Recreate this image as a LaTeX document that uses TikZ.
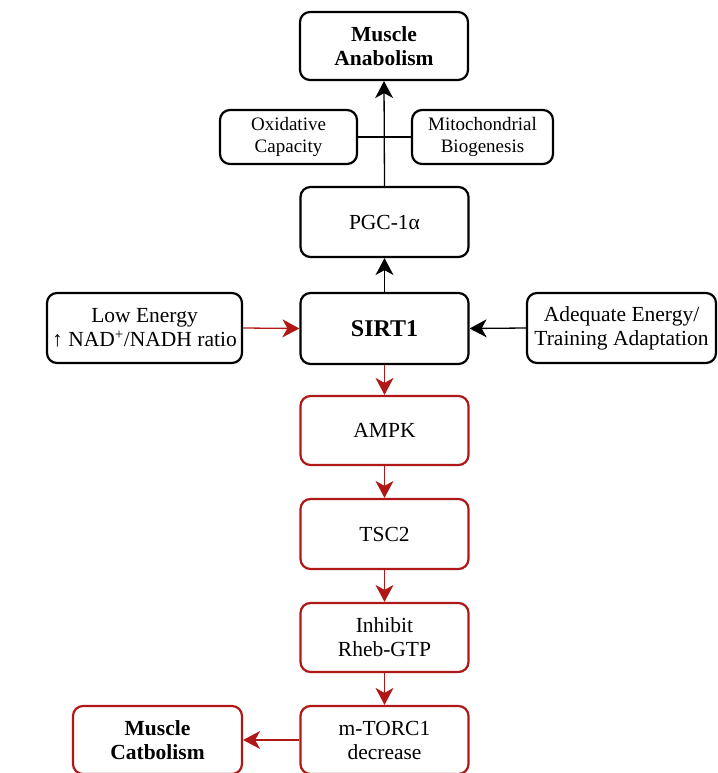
\documentclass[tikz,border=0pt]{standalone}
\usepackage{fontspec}
\setmainfont{Liberation Serif}
\usetikzlibrary{arrows.meta}
\definecolor{dred}{HTML}{B01818}
\tikzset{
  box/.style={draw=black, line width=2.2pt, rounded corners=10pt, align=center, font=\fontsize{21.5}{24}\selectfont, inner sep=0pt},
  sbox/.style={box, font=\fontsize{19}{22}\selectfont},
  rbox/.style={box, draw=dred},
  blk/.style={draw=black, line width=1.3pt, -{Stealth[length=17pt,width=18pt,inset=5pt]}},
  red/.style={draw=dred, line width=1.3pt, -{Stealth[length=17pt,width=18pt,inset=5pt]}},
}
\begin{document}
\begin{tikzpicture}[x=1pt,y=-1pt]
\useasboundingbox (0,0) rectangle (717,773);
\node[box, minimum width=168pt, minimum height=68pt] (ana) at (384,46) {\textbf{Muscle}\\\textbf{Anabolism}};
\node[sbox, minimum width=137pt, minimum height=54pt] (oxi) at (288.5,137) {Oxidative\\Capacity};
\node[sbox, minimum width=141pt, minimum height=54pt] (mit) at (482.5,137) {Mitochondrial\\Biogenesis};
\node[box, minimum width=168pt, minimum height=70pt] (pgc) at (384.5,222) {PGC-1α};
\node[box, minimum width=168pt, minimum height=71pt, font=\fontsize{24}{26}\selectfont\bfseries] (sirt) at (384.5,328.5) {SIRT1};
\node[box, minimum width=195pt, minimum height=70pt] (low) at (144.5,328) {Low Energy\\↑ NAD\textsuperscript{+}/NADH ratio};
\node[box, minimum width=189pt, minimum height=70pt] (adq) at (621.5,328) {Adequate Energy/\\Training Adaptation};
\node[rbox, minimum width=168pt, minimum height=69pt] (ampk) at (384.5,430.5) {AMPK};
\node[rbox, minimum width=168pt, minimum height=70pt] (tsc) at (384.5,534) {TSC2};
\node[rbox, minimum width=168pt, minimum height=69pt] (inh) at (384.5,637.5) {Inhibit\\Rheb-GTP};
\node[rbox, minimum width=168pt, minimum height=68pt] (mtor) at (384.5,740) {m-TORC1\\decrease};
\node[rbox, minimum width=169pt, minimum height=68pt] (cat) at (157.5,740) {\textbf{Muscle}\\\textbf{Catbolism}};
\draw[line width=1.3pt] (oxi.east) -- (mit.west);
\draw[blk] (pgc.north) -- (ana.south);
\draw[blk] (sirt.north) -- (pgc.south);
\draw[red] (low.east) -- (sirt.west);
\draw[blk] (adq.west) -- (sirt.east);
\draw[red] (sirt.south) -- (ampk.north);
\draw[red] (ampk.south) -- (tsc.north);
\draw[red] (tsc.south) -- (inh.north);
\draw[red] (inh.south) -- (mtor.north);
\draw[red] (mtor.west) -- (cat.east);
\end{tikzpicture}
\end{document}
